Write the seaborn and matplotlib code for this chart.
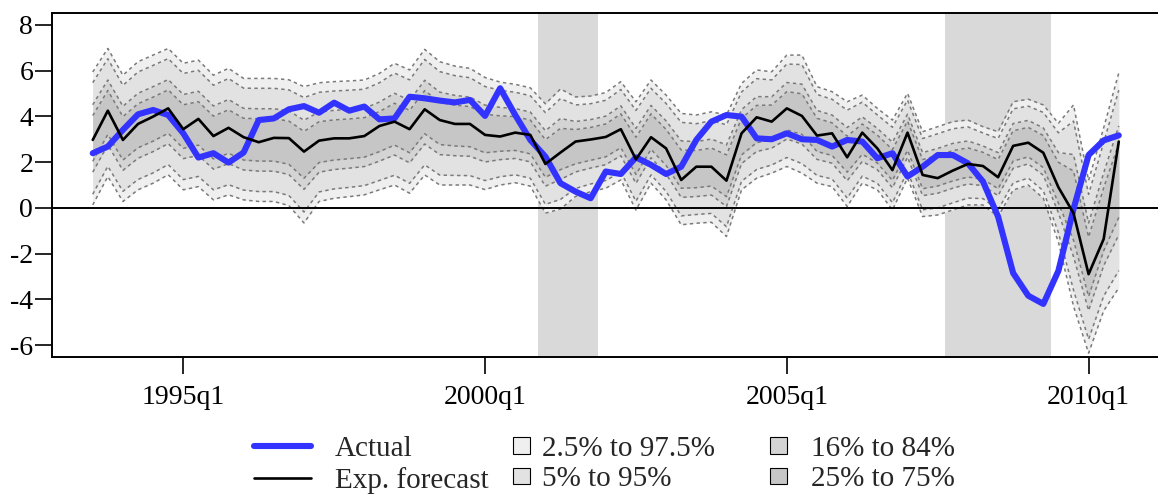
import numpy as np
import pandas as pd
import matplotlib
matplotlib.use("Agg")
import matplotlib.pyplot as plt
import seaborn as sns
from matplotlib.lines import Line2D
from matplotlib.patches import Patch

# ---------------- data ----------------
quarters = pd.period_range("1993Q3", "2010Q3", freq="Q")

actual = [2.39, 2.68, 3.41, 4.09, 4.28, 4.06, 3.26, 2.20, 2.39, 1.98,
          2.42, 3.84, 3.91, 4.31, 4.45, 4.16, 4.60, 4.25, 4.43, 3.87,
          3.91, 4.86, 4.79, 4.69, 4.61, 4.72, 4.02, 5.23, 4.06, 2.97,
          2.24, 1.08, 0.71, 0.42, 1.59, 1.48, 2.21, 1.88, 1.48, 1.80,
          2.97, 3.77, 4.06, 3.99, 3.04, 3.00, 3.26, 3.00, 2.97, 2.68,
          2.97, 2.90, 2.17, 2.39, 1.37, 1.80, 2.31, 2.31, 1.95, 1.15,
          -0.38, -2.85, -3.84, -4.20, -2.75, -0.05, 2.31, 2.95, 3.17]

forecast = [2.97, 4.25, 2.97, 3.67, 3.99, 4.35, 3.44, 3.89, 3.14, 3.50,
            3.09, 2.87, 3.06, 3.05, 2.46, 2.94, 3.04, 3.04, 3.14, 3.58,
            3.77, 3.44, 4.31, 3.84, 3.67, 3.67, 3.19, 3.12, 3.29, 3.19,
            1.92, 2.42, 2.90, 2.99, 3.10, 3.44, 2.12, 3.09, 2.60, 1.22,
            1.80, 1.80, 1.19, 3.26, 3.96, 3.77, 4.35, 4.02, 3.16, 3.26,
            2.21, 3.29, 2.60, 1.65, 3.29, 1.44, 1.30, 1.63, 1.92, 1.83,
            1.34, 2.71, 2.85, 2.41, 0.90, -0.23, -2.90, -1.36, 2.90]

# outer band: 97.5% and 2.5% quantiles
q975 = [5.94, 6.97, 5.80, 6.39, 6.68, 6.97, 6.32, 6.46, 5.80, 6.10,
        5.66, 5.66, 5.66, 5.60, 5.30, 5.47, 5.52, 5.55, 5.59, 5.88,
        6.32, 6.03, 6.93, 6.39, 6.20, 6.10, 5.70, 5.50, 5.40, 5.25,
        4.55, 5.20, 4.85, 4.89, 5.04, 5.52, 4.64, 5.59, 4.93, 4.13,
        4.06, 4.20, 4.06, 5.44, 6.03, 5.95, 6.68, 6.68, 5.30, 5.08,
        4.64, 4.93, 4.35, 3.84, 5.01, 3.33, 3.55, 3.77, 3.84, 3.55,
        3.33, 4.64, 4.75, 4.50, 3.70, 4.50, 1.20, 3.50, 5.90]
q025 = [0.13, 1.37, 0.28, 0.79, 1.08, 1.45, 0.79, 0.93, 0.35, 0.57,
        0.35, 0.28, 0.28, 0.10, -0.66, 0.28, 0.42, 0.49, 0.57, 0.79,
        1.00, 0.64, 1.44, 1.00, 1.00, 1.00, 0.80, 1.00, 1.10, 0.95,
        -0.23, -0.05, 0.50, 0.71, 0.86, 1.22, -0.09, 1.08, 0.35, -0.74,
        -0.67, -0.63, -1.25, 0.79, 1.30, 1.52, 1.81, 1.52, 1.08, 0.93,
        0.06, 1.08, 0.79, -0.09, 1.30, -0.38, -0.31, -0.09, 0.13, 0.13,
        -0.38, 0.78, 1.00, 0.42, -1.50, -4.30, -6.35, -4.50, -3.50]

band_labels = ["2.5% to 97.5%", "5% to 95%", "16% to 84%", "25% to 75%"]
band_z = [1.96, 1.645, 0.994, 0.674]
band_colors = ["#efefef", "#e2e2e2", "#d4d4d4", "#c6c6c6"]

recessions = [("2001Q1", "2001Q4"), ("2007Q4", "2009Q2")]
tick_labels = ["1995q1", "2000q1", "2005q1", "2010q1"]

# ---------------- helpers ----------------
def qnum(p):
    p = pd.Period(p, freq="Q")
    return p.year + (p.quarter - 1) / 4.0

x = np.array([qnum(p) for p in quarters])
df = pd.DataFrame({"x": x, "Actual": actual, "Exp. forecast": forecast})

hi = np.array(q975)
lo = np.array(q025)
center = (hi + lo) / 2
half = (hi - lo) / 2

# ---------------- style ----------------
sns.set_style("white")
plt.rcParams["font.family"] = ["Liberation Serif", "DejaVu Serif"]
plt.rcParams["axes.unicode_minus"] = False

W, H = 1158, 497
fig = plt.figure(figsize=(W / 100, H / 100), dpi=100)
ax = fig.add_axes([52 / W, 1 - 357 / H, 1 - 52 / W, (357 - 13) / H])

# recession shading
for a, b in recessions:
    ax.axvspan(qnum(a) - 0.125, qnum(b) + 0.125, color="#d9d9d9", lw=0, zorder=0)

# fan bands
for z, col in zip(band_z, band_colors):
    ax.fill_between(x, center - half * z / 1.96, center + half * z / 1.96,
                    color=col, lw=0, zorder=1)
for z in band_z:
    for s in (-1, 1):
        ax.plot(x, center + s * half * z / 1.96, color="#7a7a7a",
                ls=(0, (2.2, 2.2)), lw=1.1, zorder=2)

ax.axhline(0, color="black", lw=1.4, zorder=3)

sns.lineplot(data=df, x="x", y="Actual", ax=ax, color="#3333ff", lw=4.4,
             zorder=4, legend=False)
sns.lineplot(data=df, x="x", y="Exp. forecast", ax=ax, color="black", lw=1.9,
             zorder=5, legend=False)

# axes
ax.set_xlim(1995 - 8.7 / 4, 1995 + 64.6 / 4)
ax.set_ylim(-6.52, 8.52)
ax.set_xticks([qnum(t.replace("q", "Q")) for t in tick_labels])
ax.set_xticklabels(tick_labels)
ax.set_yticks(np.arange(-6, 9, 2))
ax.set_yticklabels([str(v) for v in np.arange(-6, 9, 2)])
ax.set_xlabel("")
ax.set_ylabel("")
ax.tick_params(axis="both", direction="out", length=12, width=1.2,
               colors="black", labelsize=20, bottom=True, left=True,
               top=False, right=False)
ax.tick_params(axis="y", pad=1.5)
ax.tick_params(axis="x", pad=8)
for side in ("left", "bottom", "top"):
    ax.spines[side].set_visible(True)
    ax.spines[side].set_color("black")
    ax.spines[side].set_linewidth(1.4)
ax.spines["right"].set_visible(False)
ax.grid(False)

# legends
fs = 21
px = fs * 100 / 72.0
top = 1 - 436 / H
ls_ = 0.15
line_handles = [Line2D([], [], color="#3333ff", lw=4.4, solid_capstyle="round"),
                Line2D([], [], color="black", lw=1.9)]
fig.legend(line_handles, ["Actual", "Exp. forecast"], loc="upper left",
           bbox_to_anchor=(254 / W, top), frameon=False, fontsize=fs,
           handlelength=57 / px, handletextpad=24 / px, borderpad=0,
           borderaxespad=0, labelspacing=ls_)

box_handles = [Patch(facecolor=c, edgecolor="black", lw=0.8) for c in band_colors]
fig.legend([box_handles[0], box_handles[1]], [band_labels[0], band_labels[1]],
           loc="upper left", bbox_to_anchor=(513 / W, top), frameon=False,
           fontsize=fs, handlelength=17 / px, handleheight=15 / px,
           handletextpad=12 / px, borderpad=0, borderaxespad=0, labelspacing=ls_)
fig.legend([box_handles[2], box_handles[3]], [band_labels[2], band_labels[3]],
           loc="upper left", bbox_to_anchor=(770 / W, top), frameon=False,
           fontsize=fs, handlelength=17 / px, handleheight=15 / px,
           handletextpad=24 / px, borderpad=0, borderaxespad=0, labelspacing=ls_)

fig.savefig("out.png", dpi=100)
